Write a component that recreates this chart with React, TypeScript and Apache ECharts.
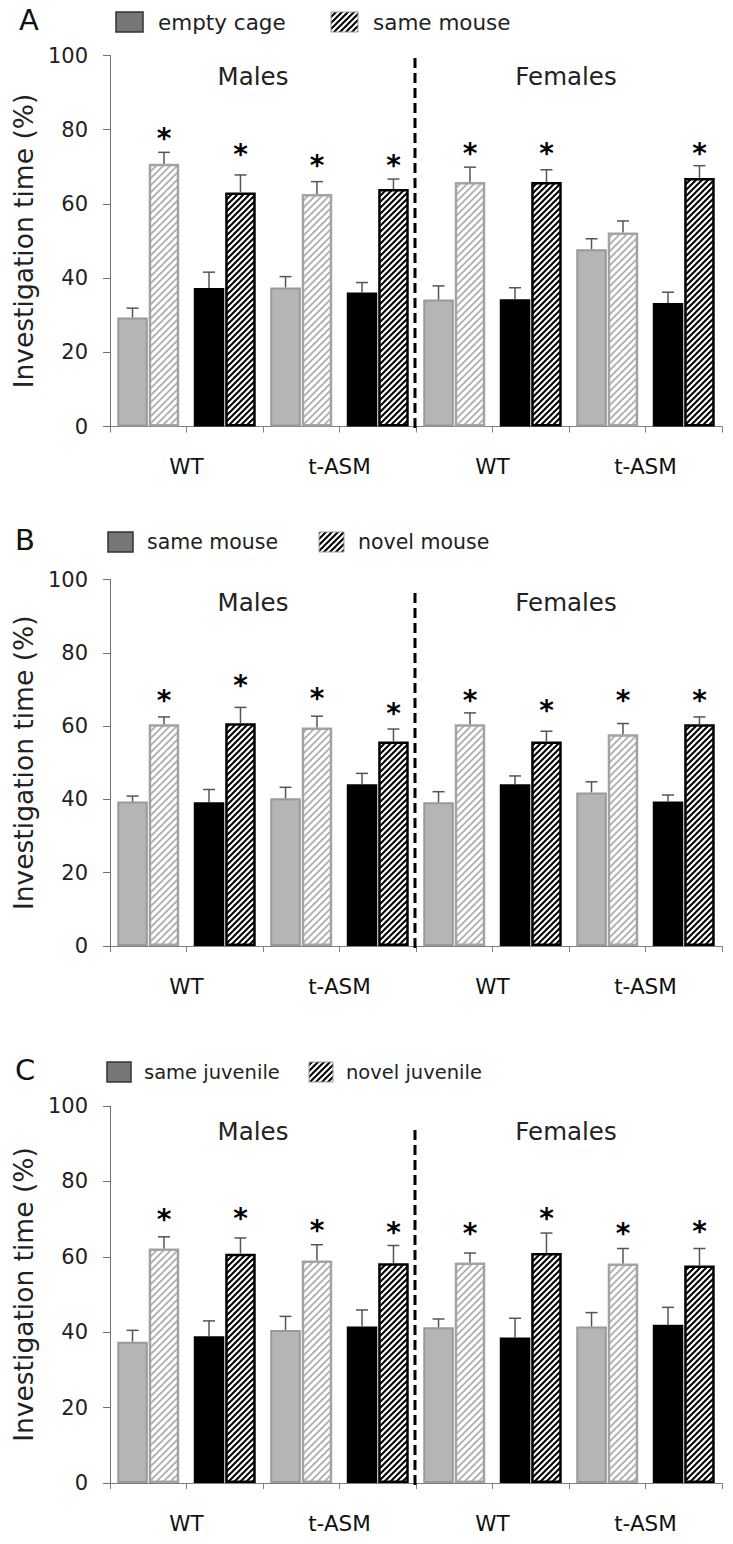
import React, { useEffect, useRef } from "react";
import * as echarts from "echarts";

// ---------- data ----------
const categories = ["M-WT-a", "M-WT-b", "M-tASM-a", "M-tASM-b", "F-WT-a", "F-WT-b", "F-tASM-a", "F-tASM-b"];
const groupLabels = ["WT", "t-ASM", "WT", "t-ASM"];
const yTickValues = [0, 20, 40, 60, 80, 100];

// Panel A: empty cage (solid) vs same mouse (hatched)
const aSolidMean = [29.4, 37.3, 37.5, 36.1, 34.2, 34.3, 47.8, 33.3];
const aSolidErrTop = [31.9, 41.6, 40.4, 38.8, 37.9, 37.4, 50.6, 36.2];
const aHatchedMean = [70.8, 63.1, 62.7, 64.0, 65.9, 65.9, 52.3, 67.0];
const aHatchedErrTop = [73.9, 67.8, 66.0, 66.7, 69.9, 69.2, 55.4, 70.3];
const aStars = [79.2, 74.9, 72.1, 72.1, 75.3, 75.3, 0, 75.3];

// Panel B: same mouse (solid) vs novel mouse (hatched)
const bSolidMean = [39.4, 39.2, 40.3, 44.1, 39.2, 44.1, 41.9, 39.4];
const bSolidErrTop = [40.9, 42.7, 43.3, 47.1, 42.1, 46.4, 44.8, 41.2];
const bHatchedMean = [60.5, 60.8, 59.6, 55.8, 60.5, 55.8, 57.8, 60.5];
const bHatchedErrTop = [62.5, 65.1, 62.7, 59.2, 63.6, 58.6, 60.7, 62.5];
const bStars = [68.7, 72.8, 69.3, 65.2, 68.7, 66.0, 68.7, 68.7];

// Panel C: same juvenile (solid) vs novel juvenile (hatched)
const cSolidMean = [37.5, 38.9, 40.6, 41.5, 41.3, 38.6, 41.5, 42.0];
const cSolidErrTop = [40.5, 43.0, 44.2, 45.9, 43.5, 43.7, 45.2, 46.6];
const cHatchedMean = [62.2, 60.8, 59.0, 58.3, 58.5, 61.0, 58.2, 57.7];
const cHatchedErrTop = [65.3, 65.0, 63.2, 63.0, 61.0, 66.3, 62.2, 62.2];
const cStars = [71.4, 71.8, 68.5, 68.1, 67.9, 71.8, 67.9, 68.3];

const panelLetters = ["A", "B", "C"];
const legendSolid = ["empty cage", "same mouse", "same juvenile"];
const legendHatched = ["same mouse", "novel mouse", "novel juvenile"];
const sexLabels = ["Males", "Females"];

// ---------- layout ----------
const FONT = "DejaVu Sans";
const GRID_LEFT = 110;
const GRID_WIDTH = 612;
const panels = [
  { top: 55.5, height: 371, letter: { x: 19, y: 23 }, legendY: 12, legendH: 20, sq: [116, 27], txt1: 158, hq: [331, 27], txt2: 373, sexY: 76, dashTop: 58, legendFont: 21.5 },
  { top: 579.5, height: 366.5, letter: { x: 15, y: 543 }, legendY: 532, legendH: 20, sq: [108, 25], txt1: 147, hq: [319, 25], txt2: 358, sexY: 602, dashTop: 593, legendFont: 20.5 },
  { top: 1106, height: 377, letter: { x: 15, y: 1073 }, legendY: 1062, legendH: 20, sq: [107, 24], txt1: 144, hq: [309, 24], txt2: 346, sexY: 1131, dashTop: 1130, legendFont: 19.5 },
];

const panelData = [
  { sm: aSolidMean, se: aSolidErrTop, hm: aHatchedMean, he: aHatchedErrTop, st: aStars },
  { sm: bSolidMean, se: bSolidErrTop, hm: bHatchedMean, he: bHatchedErrTop, st: bStars },
  { sm: cSolidMean, se: cSolidErrTop, hm: cHatchedMean, he: cHatchedErrTop, st: cStars },
];

const CAT_GAP = 0.19;
const BAR_GAP = 0.03;

function makeHatch(size: number, lineWidth: number, color: string) {
  const c = document.createElement("canvas");
  c.width = size;
  c.height = size;
  const ctx = c.getContext("2d")!;
  ctx.fillStyle = "#ffffff";
  ctx.fillRect(0, 0, size, size);
  ctx.strokeStyle = color;
  ctx.lineWidth = lineWidth;
  ctx.beginPath();
  ctx.moveTo(-1, size + 1);
  ctx.lineTo(size + 1, -1);
  ctx.moveTo(-size / 2 - 1, size / 2 + 1);
  ctx.lineTo(size / 2 + 1, -size / 2 - 1);
  ctx.moveTo(size / 2 - 1, size * 1.5 + 1);
  ctx.lineTo(size * 1.5 + 1, size / 2 - 1);
  ctx.stroke();
  return c;
}

export default function App() {
  const ref = useRef<HTMLDivElement>(null);

  useEffect(() => {
    document.body.style.margin = "0";
    if (!ref.current) return;
    const chart = echarts.init(ref.current, undefined, { renderer: "svg" });

    const blackHatch = { image: makeHatch(6, 2, "#000000"), repeat: "repeat" };
    const grayHatch = { image: makeHatch(7, 1.9, "#b0b0b0"), repeat: "repeat" };

    const grids: any[] = [];
    const xAxes: any[] = [];
    const yAxes: any[] = [];
    const series: any[] = [];
    const graphics: any[] = [];

    panels.forEach((p, i) => {
      const d = panelData[i];
      grids.push({ left: GRID_LEFT, width: GRID_WIDTH, top: p.top, height: p.height });
      xAxes.push({
        type: "category",
        gridIndex: i,
        data: categories,
        position: "bottom",
        axisLine: { lineStyle: { color: "#808080", width: 1 } },
        axisTick: { show: true, length: 6, lineStyle: { color: "#808080" } },
        axisLabel: { show: false },
        splitLine: { show: false },
      });
      xAxes.push({
        type: "category",
        gridIndex: i,
        data: groupLabels,
        position: "bottom",
        axisLine: { show: false },
        axisTick: { show: false },
        axisLabel: { fontSize: 21.5, color: "#111", fontFamily: FONT, margin: 29 },
        splitLine: { show: false },
      });
      yAxes.push({
        type: "value",
        gridIndex: i,
        min: yTickValues[0],
        max: yTickValues[yTickValues.length - 1],
        interval: yTickValues[1] - yTickValues[0],
        axisLine: { show: true, lineStyle: { color: "#707070", width: 1 } },
        axisTick: { show: true, length: 7, lineStyle: { color: "#707070" } },
        splitLine: { show: false },
        axisLabel: { fontSize: 21, color: "#222", fontFamily: FONT, margin: 22 },
        name: "Investigation time (%)",
        nameLocation: "middle",
        nameGap: 71,
        nameTextStyle: { fontSize: 26.5, color: "#222", fontFamily: FONT },
      });

      const solidData = d.sm.map((v, k) => ({
        value: v,
        itemStyle:
          k % 2 === 0
            ? { color: "#b5b5b5", borderColor: "#999999", borderWidth: 2 }
            : { color: "#000000", borderColor: "#000000", borderWidth: 2 },
      }));
      const hatchedData = d.hm.map((v, k) => ({
        value: v,
        itemStyle:
          k % 2 === 0
            ? { color: grayHatch, borderColor: "#a3a3a3", borderWidth: 2.5 }
            : { color: blackHatch, borderColor: "#000000", borderWidth: 2.5 },
      }));
      series.push({
        type: "bar",
        name: legendSolid[i],
        xAxisIndex: i * 2,
        yAxisIndex: i,
        data: solidData,
        barGap: BAR_GAP * 100 + "%",
        barCategoryGap: CAT_GAP * 100 + "%",
        silent: true,
      });
      series.push({
        type: "bar",
        name: legendHatched[i],
        xAxisIndex: i * 2,
        yAxisIndex: i,
        data: hatchedData,
        barGap: BAR_GAP * 100 + "%",
        barCategoryGap: CAT_GAP * 100 + "%",
        silent: true,
      });

      const errData: number[][] = [];
      d.sm.forEach((v, k) => errData.push([k, 0, v, d.se[k], 0]));
      d.hm.forEach((v, k) => errData.push([k, 1, v, d.he[k], d.st[k]]));
      series.push({
        type: "custom",
        xAxisIndex: i * 2,
        yAxisIndex: i,
        encode: { x: 0, y: 2 },
        silent: true,
        z: 5,
        data: errData,
        renderItem: (params: any, api: any) => {
          const cat = api.value(0);
          const which = api.value(1);
          const mean = api.value(2);
          const top = api.value(3);
          const star = api.value(4);
          const band = api.size([1, 0])[0];
          const G = band * (1 - CAT_GAP);
          const bw = G / (2 + BAR_GAP);
          const base = api.coord([cat, mean]);
          const tp = api.coord([cat, top]);
          const x = base[0] + (which === 0 ? -G / 2 + bw / 2 : G / 2 - bw / 2);
          const style = { stroke: "#555", lineWidth: 1.5 };
          const children: any[] = [
            { type: "line", shape: { x1: x, y1: base[1], x2: x, y2: tp[1] }, style },
            { type: "line", shape: { x1: x - 6, y1: tp[1], x2: x + 6, y2: tp[1] }, style },
          ];
          if (star > 0) {
            const sp = api.coord([cat, star]);
            children.push({
              type: "text",
              style: {
                text: "*",
                x: x,
                y: sp[1] + 6,
                align: "center",
                verticalAlign: "middle",
                fontSize: 28,
                fontWeight: "bold",
                fontFamily: FONT,
                fill: "#000",
              },
            });
          }
          return { type: "group", children };
        },
      });

      // panel letter
      graphics.push({
        type: "text",
        left: p.letter.x,
        top: p.letter.y - 18,
        style: { text: panelLetters[i], fontSize: 29, fontFamily: FONT, fill: "#111" },
      });
      // legend
      graphics.push({
        type: "rect",
        shape: { x: p.sq[0], y: p.legendY, width: p.sq[1], height: p.legendH },
        style: { fill: "#767676", stroke: "#333", lineWidth: 1.5 },
      });
      graphics.push({
        type: "text",
        style: {
          text: legendSolid[i],
          x: p.txt1,
          y: p.legendY + p.legendH / 2,
          verticalAlign: "middle",
          fontSize: p.legendFont,
          fontFamily: FONT,
          fill: "#222",
        },
      });
      graphics.push({
        type: "rect",
        shape: { x: p.hq[0], y: p.legendY, width: p.hq[1], height: p.legendH },
        style: { fill: blackHatch, stroke: "#999", lineWidth: 1 },
      });
      graphics.push({
        type: "text",
        style: {
          text: legendHatched[i],
          x: p.txt2,
          y: p.legendY + p.legendH / 2,
          verticalAlign: "middle",
          fontSize: p.legendFont,
          fontFamily: FONT,
          fill: "#222",
        },
      });
      // sex labels
      const half = GRID_WIDTH / 2;
      [253, 566].forEach((cx, j) => {
        graphics.push({
          type: "text",
          style: {
            text: sexLabels[j],
            x: cx,
            y: p.sexY,
            align: "center",
            verticalAlign: "middle",
            fontSize: 24.5,
            fontFamily: FONT,
            fill: "#222",
          },
        });
      });
      // dashed separator
      const dx = GRID_LEFT + half - 1;
      graphics.push({
        type: "line",
        shape: { x1: dx, y1: p.dashTop, x2: dx, y2: p.top + p.height + 4 },
        style: { stroke: "#000", lineWidth: 3, lineDash: [10, 5] },
        z: 10,
      });
    });

    chart.setOption({
      animation: false,
      backgroundColor: "#ffffff",
      textStyle: { fontFamily: FONT },
      grid: grids,
      xAxis: xAxes,
      yAxis: yAxes,
      series,
      graphic: graphics,
    });

    return () => chart.dispose();
  }, []);

  return <div ref={ref} style={{ width: 733, height: 1544 }} />;
}
